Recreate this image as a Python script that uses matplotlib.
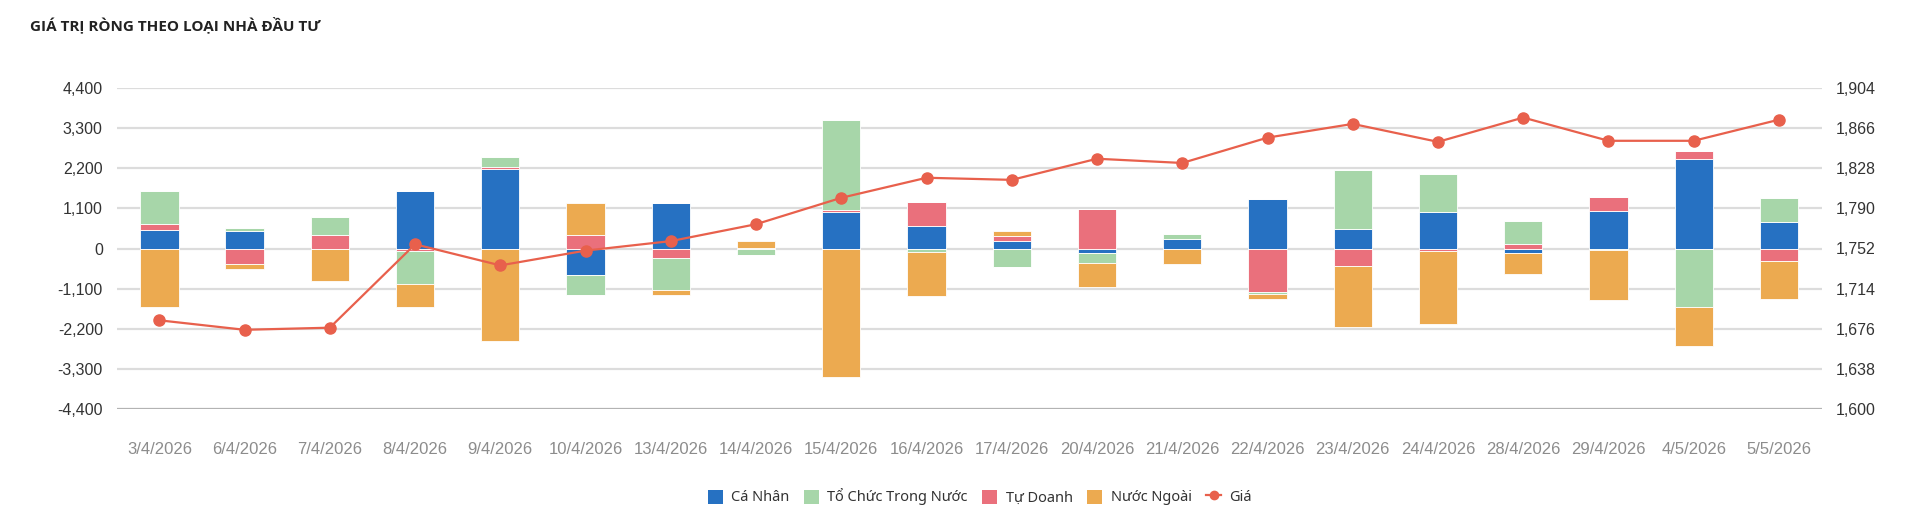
import matplotlib
matplotlib.use("Agg")
import matplotlib.pyplot as plt
from matplotlib.patches import Patch
from matplotlib.lines import Line2D
import numpy as np

dates = ["3/4/2026", "6/4/2026", "7/4/2026", "8/4/2026", "9/4/2026", "10/4/2026",
         "13/4/2026", "14/4/2026", "15/4/2026", "16/4/2026", "17/4/2026", "20/4/2026",
         "21/4/2026", "22/4/2026", "23/4/2026", "24/4/2026", "28/4/2026", "29/4/2026",
         "4/5/2026", "5/5/2026"]

ca_nhan = [500, 477, -20, 1577, 2182, -715, 1256, 0, 990, 614, 202, -120,
           257, 1348, 541, 1008, -130, 1036, 2448, 733]
to_chuc = [907, 73, 513, -907, 266, -550, -898, -190, 2457, -92, -504, -284,
           147, -46, 1613, 1027, 642, -46, -1613, 642]
tu_doanh = [165, -412, 357, -55, 55, 367, -248, 20, 64, 651, 137, 1080,
            0, -1192, -468, -73, 120, 367, 229, -348]
nuoc_ngoai = [-1604, -156, -880, -642, -2530, 889, -119, 180, -3529, -1210, 137, -660,
              -422, -137, -1696, -1989, -578, -1375, -1073, -1045]
gia = [1684, 1675, 1677, 1756, 1736, 1750, 1759, 1775, 1800, 1819, 1817, 1837,
       1833, 1857, 1870, 1853, 1876, 1854, 1854, 1874]

left_ticks = [-4400, -3300, -2200, -1100, 0, 1100, 2200, 3300, 4400]
right_ticks = [1600, 1638, 1676, 1714, 1752, 1790, 1828, 1866, 1904]

C_BLUE = "#2671c2"
C_GREEN = "#a7d6a9"
C_RED = "#ea707c"
C_ORANGE = "#ecaa50"
C_LINE = "#e8604c"

fig = plt.figure(figsize=(19.2, 5.28), dpi=100)
ax = fig.add_axes([116.7 / 1920, 1 - 409 / 528, (1821.6 - 116.7) / 1920, (409 - 88) / 528])

x = np.arange(len(dates))
width = 0.45

# stacking order (bottom-up for positives, top-down for negatives)
series = [(ca_nhan, C_BLUE), (tu_doanh, C_RED), (to_chuc, C_GREEN), (nuoc_ngoai, C_ORANGE)]
pos_base = np.zeros(len(dates))
neg_base = np.zeros(len(dates))
for vals, col in series:
    v = np.array(vals, dtype=float)
    pos = np.where(v > 0, v, 0)
    neg = np.where(v < 0, v, 0)
    ax.bar(x, pos, width, bottom=pos_base, color=col, edgecolor="white", linewidth=0.6, zorder=3)
    ax.bar(x, neg, width, bottom=neg_base, color=col, edgecolor="white", linewidth=0.6, zorder=3)
    pos_base += pos
    neg_base += neg

ax.set_xlim(-0.5, len(dates) - 0.5)
ax.set_ylim(-4400, 4400)
ax.set_yticks(left_ticks)
ax.set_yticklabels([f"{t:,}" for t in left_ticks])
ax.set_xticks(x)
ax.set_xticklabels(dates)

for t in left_ticks:
    if t == -4400:
        ax.axhline(t, color="#b3b3b3", lw=1.6, zorder=1)
    else:
        ax.axhline(t, color="#dcdcdc", lw=1.6, zorder=1)

for s in ax.spines.values():
    s.set_visible(False)
ax.tick_params(axis="both", length=0)
ax.tick_params(axis="y", pad=10, labelsize=11.5, labelcolor="#333333")
ax.tick_params(axis="x", pad=24, labelsize=12, labelcolor="#8c8c8c")
for lab in ax.get_yticklabels() + ax.get_xticklabels():
    lab.set_family("Liberation Sans")

ax2 = ax.twinx()
ax2.plot(x, gia, color=C_LINE, lw=1.6, marker="o", markersize=8, zorder=5)
ax2.set_ylim(1600, 1904)
ax2.set_yticks(right_ticks)
ax2.set_yticklabels([f"{t:,}" for t in right_ticks])
for s in ax2.spines.values():
    s.set_visible(False)
ax2.tick_params(axis="y", length=0, pad=10, labelsize=11.5, labelcolor="#333333")
for lab in ax2.get_yticklabels():
    lab.set_family("Liberation Sans")

fig.text(30 / 1920, 1 - 25 / 528, "GIÁ TRỊ RÒNG THEO LOẠI NHÀ ĐẦU TƯ", fontsize=11,
         fontweight="bold", family="Open Sans", color="#222222", va="center", ha="left")

handles = [
    Patch(facecolor=C_BLUE, label="Cá Nhân"),
    Patch(facecolor=C_GREEN, label="Tổ Chức Trong Nước"),
    Patch(facecolor=C_RED, label="Tự Doanh"),
    Patch(facecolor=C_ORANGE, label="Nước Ngoài"),
    Line2D([0], [0], color=C_LINE, lw=1.6, marker="o", markersize=6, label="Giá"),
]
fig.legend(handles=handles, loc="center", bbox_to_anchor=(980 / 1920, 1 - 497 / 528), ncol=5,
           frameon=False, prop={"family": "Noto Sans", "size": 10.5}, handlelength=1.0,
           handleheight=1.1, handletextpad=0.6, columnspacing=1.0, labelcolor="#333333")

fig.savefig("out.png", dpi=100, facecolor="white")
